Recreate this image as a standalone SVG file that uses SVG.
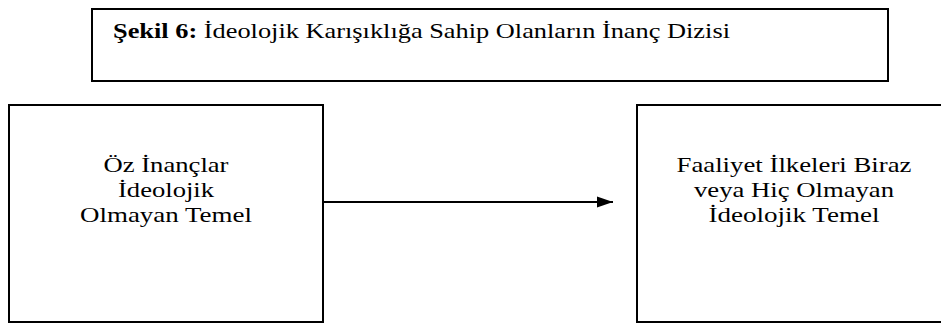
<svg xmlns="http://www.w3.org/2000/svg" width="941" height="323" viewBox="0 0 941 323">
<defs>
<style>
.box{fill:#fff;stroke:#000;stroke-width:2}
.t{font-family:"Liberation Serif","Times New Roman",serif;font-size:21px;fill:#000}
.c{text-anchor:middle}
.conn{stroke:#000;stroke-width:2;fill:none}
</style>
<marker id="ah" markerWidth="16" markerHeight="12" refX="16" refY="6" orient="auto" markerUnits="userSpaceOnUse">
<path d="M0,0.5 L16,6 L0,11.5 Z" fill="#000"/>
</marker>
</defs>
<rect width="941" height="323" fill="#fff"/>
<g id="title">
<rect class="box" x="92" y="9" width="796" height="72"/>
<text class="t" x="113" y="38" textLength="617" lengthAdjust="spacingAndGlyphs"><tspan font-weight="bold">Şekil 6:</tspan> İdeolojik Karışıklığa Sahip Olanların İnanç Dizisi</text>
</g>
<g id="node-left">
<rect class="box" x="9" y="105" width="314" height="217"/>
<text class="t c" x="166" y="172" textLength="125" lengthAdjust="spacingAndGlyphs">Öz İnançlar</text>
<text class="t c" x="166" y="197" textLength="96" lengthAdjust="spacingAndGlyphs">İdeolojik</text>
<text class="t c" x="166" y="222" textLength="172" lengthAdjust="spacingAndGlyphs">Olmayan Temel</text>
</g>
<g id="node-right">
<rect class="box" x="637" y="105" width="314" height="217"/>
<text class="t c" x="794" y="172" textLength="235" lengthAdjust="spacingAndGlyphs">Faaliyet İlkeleri Biraz</text>
<text class="t c" x="794" y="197" textLength="200" lengthAdjust="spacingAndGlyphs">veya Hiç Olmayan</text>
<text class="t c" x="794" y="222" textLength="171" lengthAdjust="spacingAndGlyphs">İdeolojik Temel</text>
</g>
<g id="connectors">
<line class="conn" x1="323" y1="202" x2="613" y2="202" marker-end="url(#ah)"/>
</g>
</svg>
